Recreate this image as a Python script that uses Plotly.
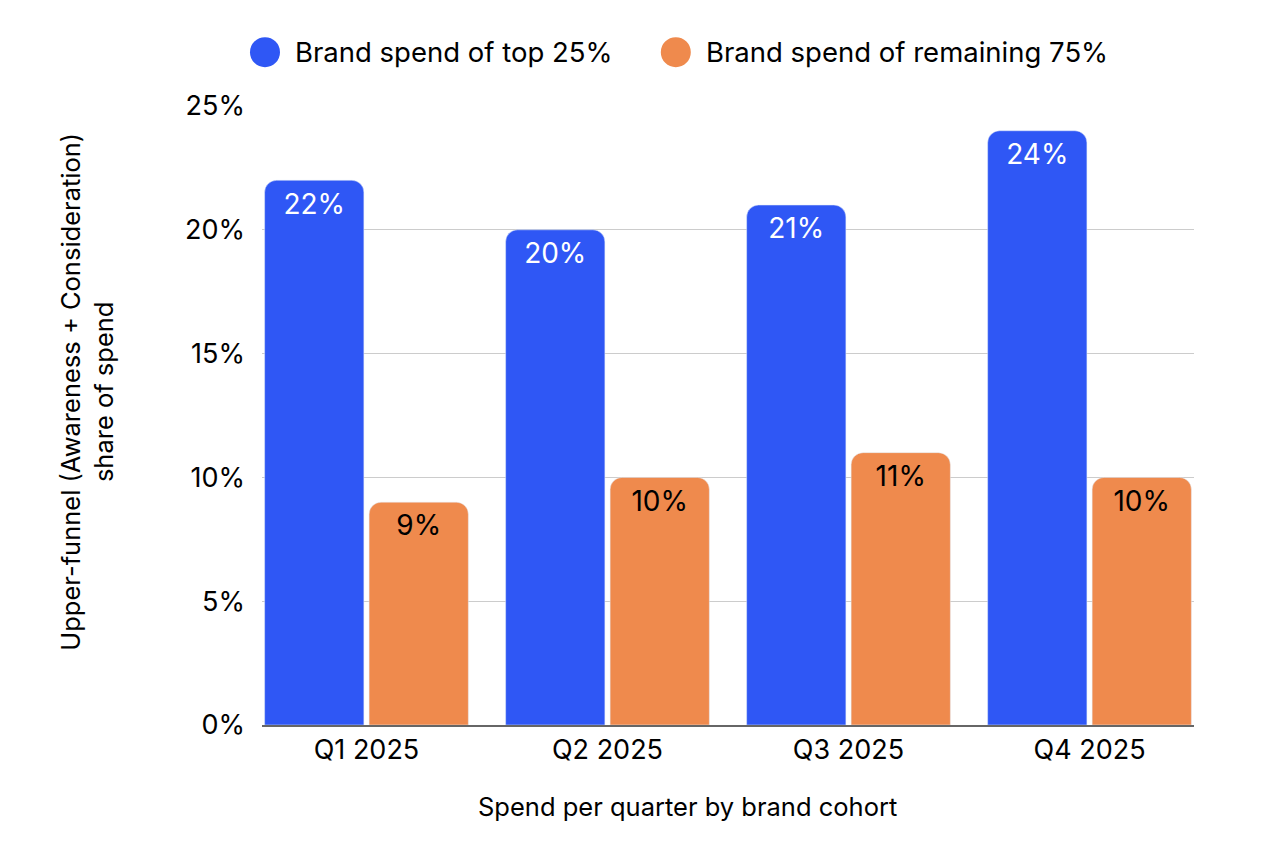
import plotly.graph_objects as go

quarters = ["Q1 2025", "Q2 2025", "Q3 2025", "Q4 2025"]
top_25 = [22, 20, 21, 24]
remaining_75 = [9, 10, 11, 10]
series_names = ["Brand spend of top 25%", "Brand spend of remaining 75%"]
tick_vals = [0, 5, 10, 15, 20, 25]
tick_text = ["0%", "5%", "10%", "15%", "20%", "25%"]

BLUE = "#2f57f5"
ORANGE = "#ef8a4d"
FONT = "Inter"

fig = go.Figure()
series = [
    (series_names[0], top_25, BLUE, "white"),
    (series_names[1], remaining_75, ORANGE, "black"),
]
for name, vals, color, txtcol in series:
    fig.add_trace(
        go.Bar(
            x=quarters,
            y=vals,
            name=name,
            marker_color=color,
            showlegend=False,
            hoverinfo="skip",
        )
    )
# value labels just under the top of each bar (invisible marker pads the text down)
for name, vals, color, txtcol in series:
    fig.add_trace(
        go.Scatter(
            x=quarters,
            y=vals,
            mode="markers+text",
            marker=dict(size=18, color="rgba(0,0,0,0)"),
            text=[f"{v}%" for v in vals],
            textposition="bottom center",
            textfont=dict(color=txtcol, size=28, family=FONT),
            showlegend=False,
            name=name,
        )
    )

# big circle legend drawn by hand (plotly caps legend marker size)
legend_y = 1.087
for name, color, cx, tx in [
    (series_names[0], BLUE, 0.0032, 0.033),
    (series_names[1], ORANGE, 0.444, 0.474),
]:
    fig.add_shape(
        type="circle",
        xref="paper",
        yref="paper",
        xsizemode="pixel",
        ysizemode="pixel",
        xanchor=cx,
        yanchor=legend_y,
        x0=-15,
        x1=15,
        y0=-15,
        y1=15,
        fillcolor=color,
        line_width=0,
    )
    fig.add_annotation(
        x=tx,
        y=legend_y,
        xref="paper",
        yref="paper",
        text=name,
        showarrow=False,
        xanchor="left",
        yanchor="middle",
        font=dict(size=27.5, family=FONT),
    )

fig.add_annotation(
    x=0.457,
    y=-0.131,
    xref="paper",
    yref="paper",
    text="Spend per quarter by brand cohort",
    showarrow=False,
    xanchor="center",
    yanchor="middle",
    font=dict(size=25.5, family=FONT),
)
fig.add_annotation(
    x=-0.188,
    y=0.538,
    xref="paper",
    yref="paper",
    text="Upper-funnel (Awareness + Consideration)<br>share of spend",
    showarrow=False,
    textangle=-90,
    xanchor="center",
    yanchor="middle",
    font=dict(size=25.5, family=FONT),
)

gap = 0.133
fig.update_layout(
    width=1280,
    height=858,
    margin=dict(l=254, r=94, t=98, b=141),
    plot_bgcolor="white",
    paper_bgcolor="white",
    font=dict(family=FONT, color="black"),
    barmode="group",
    bargap=gap,
    bargroupgap=0.05,
    scattermode="group",
    scattergap=gap,
    barcornerradius=12,
    showlegend=False,
    xaxis=dict(
        range=[-0.5 + gap / 2, 3.5 - gap / 2],
        showline=True,
        linecolor="#666666",
        linewidth=1.5,
        tickfont=dict(size=27),
        ticks="",
    ),
    yaxis=dict(
        range=[0, 25],
        tickvals=tick_vals,
        ticktext=tick_text,
        tickfont=dict(size=27),
        ticklabelstandoff=16,
        showgrid=True,
        gridcolor="#cccccc",
        gridwidth=1,
        zeroline=False,
        ticks="",
    ),
)

fig.write_html("out.html")
